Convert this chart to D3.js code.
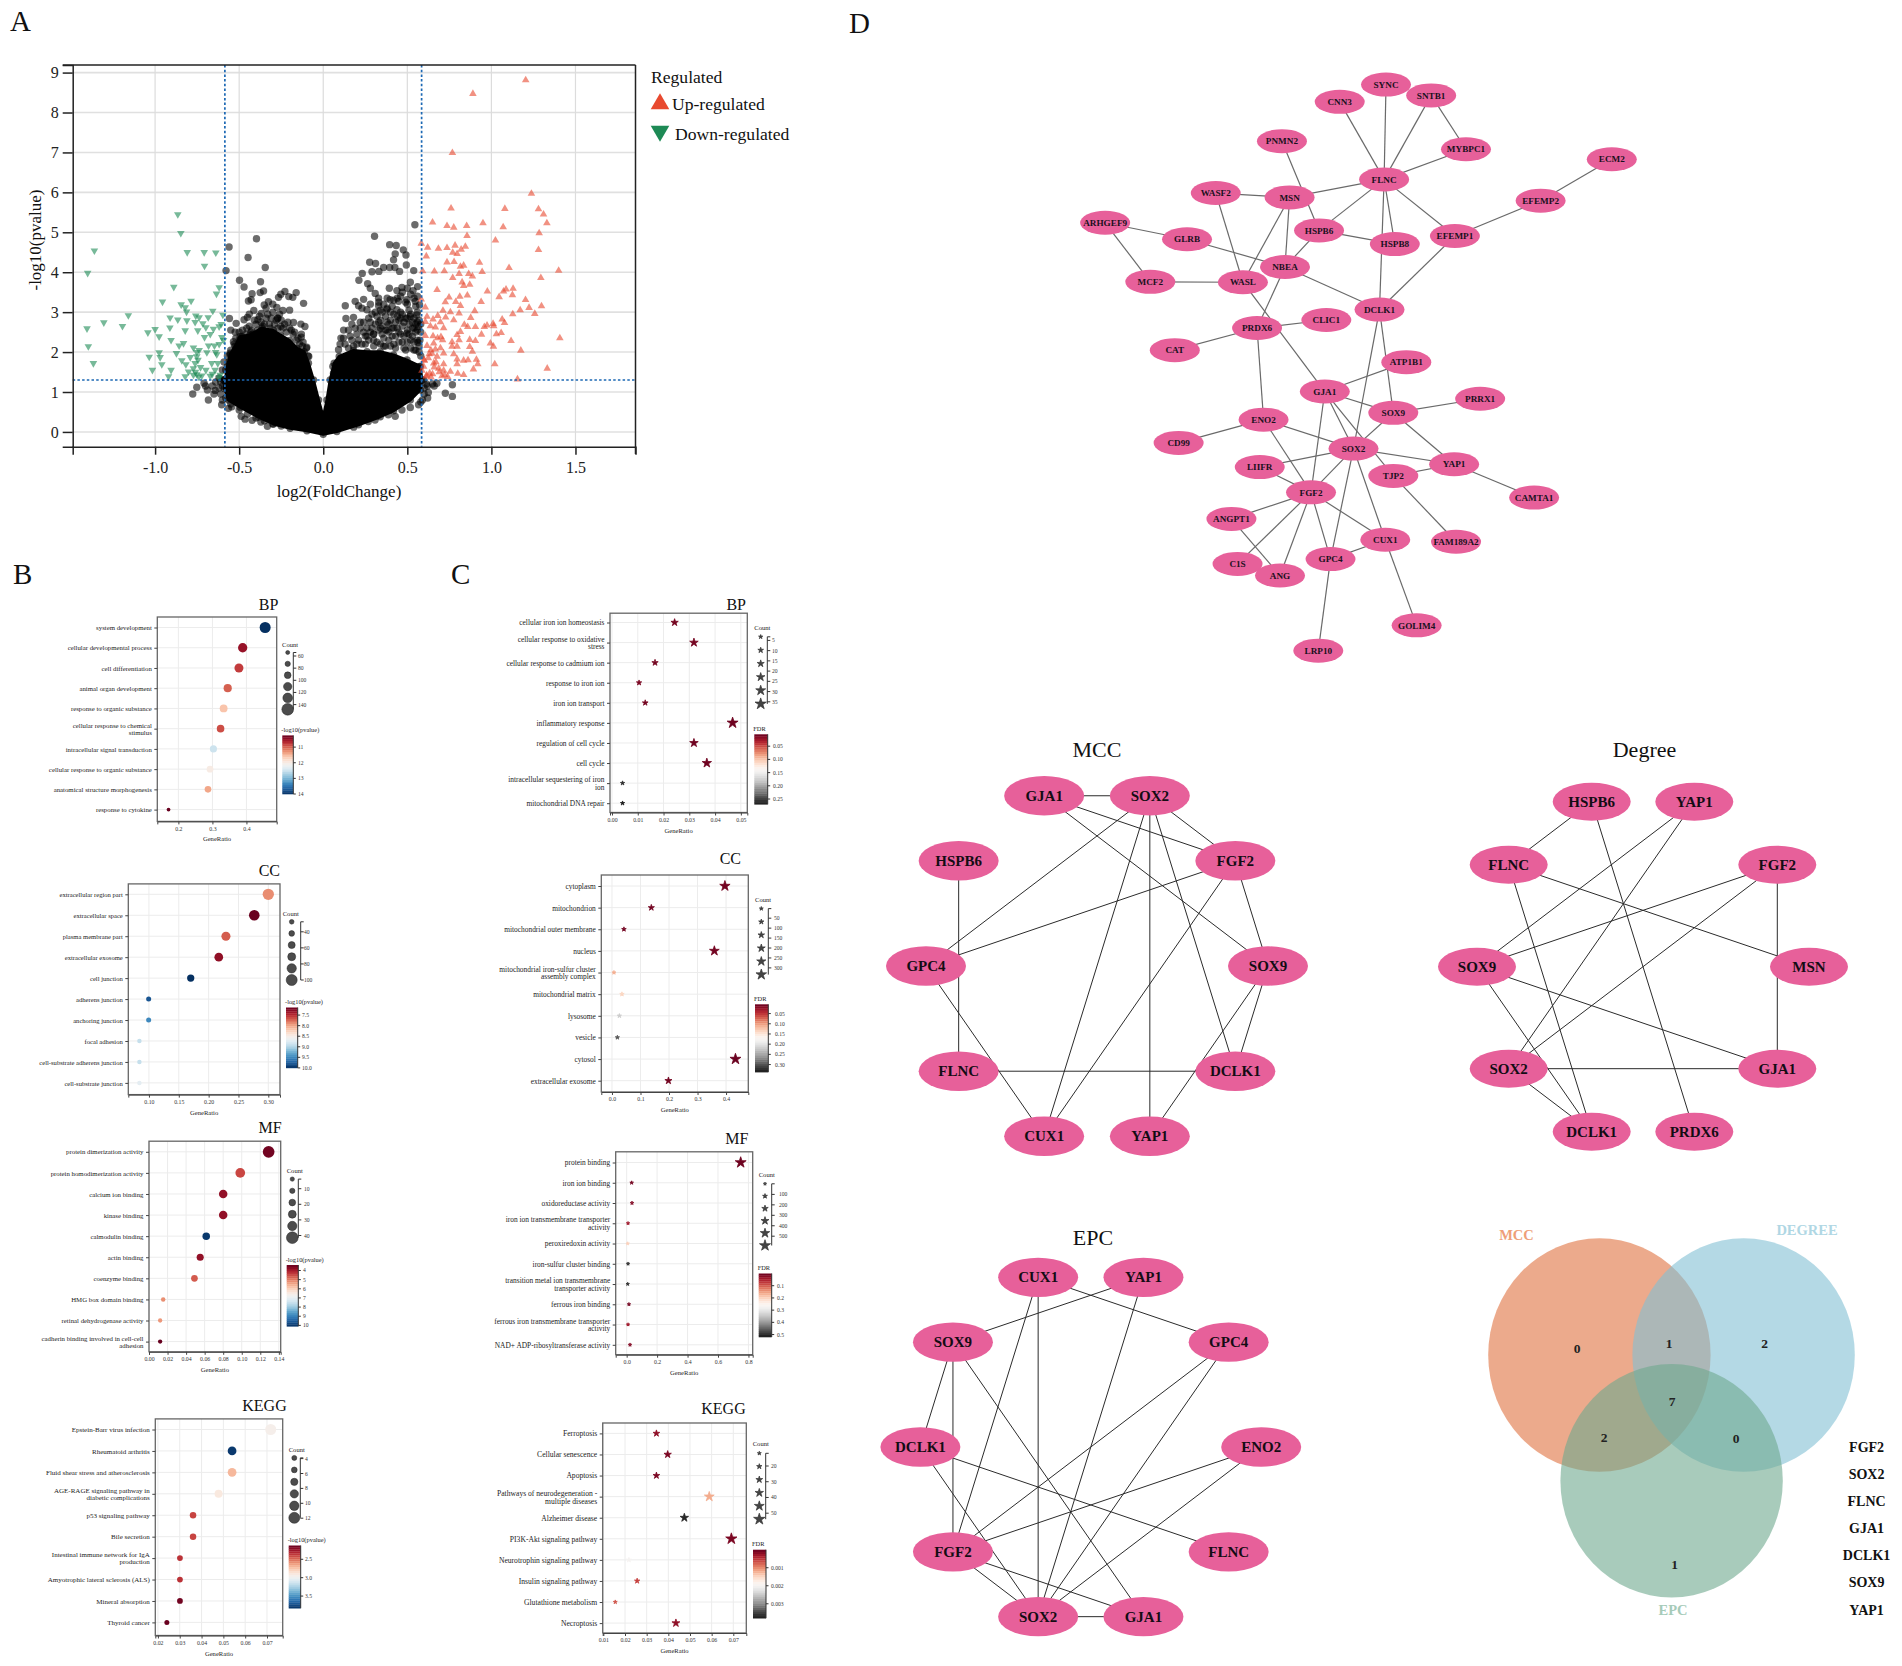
<!DOCTYPE html>
<html>
<head>
<meta charset="utf-8">
<script src="https://cdn.jsdelivr.net/npm/d3@7"></script>
<style>
  body { margin: 0; background: #fff; }
  svg text { font-family: "Liberation Serif", serif; }
</style>
</head>
<body>
<div id="root"></div>
<script>
// ---- volcano values (log2FC / -log10 p)
const upX = [1.204,.89,.768,1.238,.76,1.08,1.28,1.31,.65,.736,.776,.853,.95,1.07,1.33,1.284,.855,1.024,.583,.621,.685,.736,.784,.845,.82,.77,.796,1.28,.613,.736,.778,.929,.816,.835,1.105,.591,.661,.72,.808,.865,.945,1.40,.77,.887,1.294,.826,.871,.835,.677,.976,1.072,1.087,1.129,1.125,1.046,.857,.812,.748,.788,.726,1.203,.939,.583,.607,.816,.901,1.224,1.298,1.171,1.127,1.258,.712,.756,.808,.617,.681,.728,.877,.653,.776,1.064,1.078,1.01,.974,.839,.697,.607,.859,.905,.958,1.014,.637,.667,.716,.816,1.03,1.058,.941,.796,1.407,.607,.653,.7,.808,.871,.905,1.117,.766,.994,.657,.617,1.012,.871,.697,.766,.667,.887,1.175,.647,.716,.776,.677,.601,.796,.835,.861,.911,.657,.796,.716,.919,1.02,1.332,.893,.716,.756,.597,.633,.687,.835,.722,.613,1.155,.641,.706,.587,.796,.625,.64,.67,.69,.71,.66,.68,.63,.6,.615,.65,.74,.8];
const upY = [8.81,8.47,6.99,5.97,5.60,5.59,5.58,5.45,5.25,5.16,5.12,5.16,5.23,5.13,5.23,4.98,4.91,4.80,4.72,4.62,4.59,4.61,4.67,4.64,4.57,4.49,4.46,4.56,4.40,4.25,4.26,4.24,4.14,4.17,4.11,4.03,4.02,4.03,3.96,3.96,4.01,4.04,3.86,3.90,3.86,3.75,3.69,3.66,3.56,3.52,3.52,3.57,3.59,3.43,3.38,3.42,3.39,3.37,3.26,3.25,3.31,3.26,3.32,3.12,3.16,3.03,3.11,3.15,3.05,2.95,2.96,3.04,3.0,2.97,2.89,2.91,2.87,2.86,2.82,2.80,2.82,2.73,2.71,2.67,2.69,2.75,2.76,2.63,2.63,2.63,2.65,2.65,2.62,2.6,2.51,2.45,2.48,2.44,2.43,2.35,2.41,2.40,2.38,2.30,2.31,2.28,2.28,2.25,2.22,2.22,2.16,2.14,2.13,2.10,2.14,2.07,2.01,2.04,1.96,1.97,1.95,1.89,1.79,1.82,1.79,1.80,1.81,1.72,1.70,1.70,1.70,1.70,1.59,1.57,1.54,1.51,1.64,1.47,1.59,1.43,1.43,1.39,1.32,1.37,1.40,1.54,2.14,1.85,2.05,1.75,1.5,2.3,1.62,2.35,1.95,1.8,1.42,1.45,1.38,1.46];
const downX = [-.865,-.847,-1.361,-.809,-.708,-.639,-.706,-1.401,-.889,-.619,-.635,-.956,-.786,-.845,-.821,-.813,-.657,-1.159,-.911,-.865,-.811,-.758,-.738,-.684,-.597,-.762,-.716,-.607,-1.305,-1.194,-1.405,-.912,-1.0,-1.043,-.821,-.746,-.698,-.653,-.619,-.976,-.672,-.706,-.603,-.905,-.831,-.857,-1.397,-.682,-.647,-.619,-.772,-.738,-.873,-.976,-.692,-.633,-1.035,-.97,-.791,-.752,-.841,-.96,-1.367,-.817,-.762,-.663,-.627,-1.016,-.905,-.772,-.698,-.643,-.801,-.92,-.821,-.752,-.722,-.672,-.613,-.772,-.593,-.752,-.745,-.73,-.76,-.66,-.64,-.74,-.62];
const downY = [5.45,4.98,4.54,4.50,4.50,4.49,4.16,3.98,3.63,3.62,3.46,3.26,3.28,3.19,3.12,3.01,3.03,2.92,2.86,2.81,2.79,2.91,2.87,2.87,2.93,2.75,2.72,2.70,2.74,2.65,2.59,2.61,2.57,2.49,2.54,2.54,2.62,2.58,2.64,2.39,2.45,2.37,2.37,2.30,2.22,2.16,2.14,2.16,2.16,2.20,2.11,2.05,1.97,1.99,1.99,1.94,1.88,1.87,1.87,1.89,1.79,1.69,1.72,1.69,1.72,1.72,1.72,1.55,1.55,1.59,1.55,1.55,1.51,1.39,1.39,1.44,1.41,1.40,1.43,1.43,2.30,2.0,1.8,1.62,1.5,1.45,2.0,1.38,1.36];
const nsX = [-.397,-.56,-.447,-.345,-.578,-.498,-.373,-.471,-.423,-.375,-.355,-.445,-.429,-.326,-.351,-.266,-.252,-.228,-.205,-.181,-.161,-.117,-.413,-.369,-.276,-.24,-.558,-.451,-.471,-.389,-.272,-.177,-.133,-.109,-.55,-.518,-.524,-.455,-.425,-.316,-.252,-.131,-.125,-.098,-.534,-.484,-.375,-.554,-.086,-.776,-.752,-.709,-.683,-.689,-.643,-.604,-.564,-.594,-.544,-.488,-.465,-.423,-.371,-.332,-.58,
  .305,.395,.434,.428,.476,.492,.418,.494,.545,.276,.311,.29,.331,.359,.395,.426,.454,.538,.232,.212,.264,.28,.393,.438,.468,.518,.534,.561,.24,.309,.329,.19,.21,.131,.398,.448,.498,.547,.573,.135,.18,.26,.329,.379,.438,.518,.557,.567,.105,.121,.498,.563,.091,.057,.061,.573,.676,.768,.726,.768,.613,.625,.597,.621,.567,.518,.468,.428,.387,.308,.181,.268,
  .13,.16,.19,.2,.22,.24,.25,.27,.29,.3,.31,.33,.35,.36,.37,.39,.4,.41,.42,.43,.45,.46,.47,.48,.49,.5,.51,.52,.53,.54,.55,.56,.57,.36,.44,.47,.54,.5,.56,.23,.28,.17,.15,.12,.1,.34,.41,.44,.58,.575,.58,.34,.38,.42,.46,.5,.54,.56,.26,.3,
  -.5,-.47,-.52,-.44,-.42,-.4,-.38,-.36,-.34,-.32,-.3,-.28,-.26,-.27,-.24,-.22,-.2,-.18,-.16,-.14,-.12,-.46,-.51,-.53,-.56,-.58,-.59,-.6,-.61,-.6,-.55,-.5,-.45,-.4,-.35,-.3,-.25,-.66,-.64,-.62,-.65,-.7,-.61,-.58,.6,.62,.65,.66,.6,.59,.58];
const nsY = [4.84,4.63,4.37,4.12,4.04,3.80,3.76,3.63,3.46,3.49,3.53,3.28,3.31,3.26,3.18,3.37,3.45,3.52,3.39,3.37,3.49,3.22,3.04,2.97,3.12,3.04,2.84,2.87,2.81,2.81,2.85,2.74,2.70,2.64,2.55,2.72,2.50,2.60,2.55,2.60,2.64,2.37,2.15,2.12,2.26,2.39,2.51,1.97,1.89,.95,1.12,1.22,.80,1.05,1.04,.68,.59,1.30,.63,.39,.32,.29,.25,.14,.85,
  4.90,4.69,4.67,4.46,4.56,4.43,4.31,4.18,5.19,4.25,4.22,4.01,4.02,4.12,4.12,4.12,4.02,4.04,3.97,3.80,3.71,3.60,3.60,3.54,3.62,3.75,3.54,3.64,3.32,3.47,3.35,3.27,3.16,3.16,3.31,3.27,3.31,3.27,3.18,2.84,2.87,3.06,3.16,3.07,3.06,2.89,2.93,2.64,2.35,2.55,2.47,2.24,2.06,1.64,1.47,1.64,1.22,1.18,.97,.89,1.20,.99,1.30,.85,.68,.61,.55,.39,.43,.30,.12,.26,
  2.2,2.4,2.6,2.2,2.75,2.5,2.2,2.85,2.6,2.3,3.0,2.75,2.45,2.15,2.9,2.7,3.0,2.4,2.2,2.75,2.5,3.0,2.25,2.75,2.05,2.55,3.05,2.3,2.75,2.05,2.5,3.0,2.0,3.2,3.35,3.5,3.35,3.6,3.4,3.1,3.2,2.7,2.55,2.35,2.2,3.05,3.15,2.9,1.9,2.3,2.7,2.6,2.55,2.6,2.85,2.85,2.6,2.75,2.4,2.45,
  2.5,2.3,2.35,2.65,2.45,2.7,2.9,2.65,2.85,2.7,3.0,2.8,2.95,2.6,2.6,2.5,2.6,2.45,2.3,2.2,2.25,2.1,2.05,1.85,1.75,1.55,1.3,1.15,.95,.8,.7,.55,.45,.35,.28,.2,.15,1.15,1.25,1.1,.95,1.15,1.25,1.25,.95,1.15,1.2,1.15,1.1,.8,.75];
// more of the crowded points in the two wings of the cloud, [log2FC, -log10 p]
const wingPoints = [[.15,2.1],[.17,2.3],[.18,2.15],[.2,2.45],[.21,2.3],[.22,2.6],[.23,2.2],[.24,2.75],[.25,2.4],[.26,2.6],[.27,2.3],[.28,2.5],[.28,2.75],[.29,2.95],[.3,2.15],[.3,2.45],[.31,2.7],[.32,2.25],[.32,2.9],[.33,2.55],[.34,2.2],[.34,2.8],[.35,2.65],[.35,3.0],[.36,2.35],[.37,2.55],[.37,2.15],[.38,2.75],[.38,3.1],[.39,2.3],[.39,2.5],[.4,2.15],[.4,2.8],[.41,2.6],[.42,2.95],[.43,2.4],[.43,2.1],[.44,2.6],[.45,2.25],[.45,2.8],[.46,2.45],[.47,2.65],[.47,2.95],[.48,2.1],[.48,2.4],[.49,2.85],[.5,2.25],[.5,3.2],[.51,2.45],[.51,2.7],[.52,2.1],[.52,2.95],[.53,2.4],[.53,2.6],[.54,2.25],[.54,2.85],[.55,2.05],[.55,2.7],[.56,2.3],[.56,2.55],[.57,2.8],[.57,2.15],[.58,2.5],[.33,3.25],[.38,3.35],[.42,3.3],[.46,3.4],[.49,3.25],[.52,3.45],[.55,3.15],
  [-.53,2.2],[-.5,2.3],[-.48,2.55],[-.46,2.45],[-.43,2.5],[-.41,2.8],[-.39,2.55],[-.37,2.75],[-.35,2.7],[-.33,2.95],[-.31,2.85],[-.29,2.7],[-.27,2.85],[-.25,2.8],[-.23,2.7],[-.21,2.75],[-.19,2.55],[-.17,2.5],[-.15,2.35],[-.13,2.45],[-.55,2.05],[-.57,1.9],[-.59,1.75],[-.6,1.55],[-.62,1.35],[-.1,2.1],[-.09,1.9],[-.44,2.95],[-.34,3.1],[-.2,3.05],[-.3,3.2]];
// outline of the solid black core of the cloud
const coreX = [0,-.097,-.197,-.296,-.385,-.494,-.564,-.588,-.582,-.57,-.554,-.524,-.494,-.435,-.365,-.296,-.256,-.2,-.157,-.113,-.088,-.058,-.028,0,.022,.041,.065,.095,.18,.26,.339,.418,.498,.577,.587,.577,.518,.418,.339,.21,.081];
const coreY = [-.06,.03,.09,.2,.37,.62,.8,1.09,1.32,1.64,1.93,2.15,2.39,2.43,2.6,2.54,2.43,2.29,2.1,2.01,1.72,1.3,.8,.37,.8,1.3,1.72,1.89,2.04,2.01,2.01,1.93,1.8,1.64,1.3,1.05,.8,.53,.38,.18,.01];
const volcanoXTicks = [-1,-.5,0,.5,1,1.5];
const volcanoYTicks = [0,1,2,3,4,5,6,7,8,9];
const fcCut = .585, pCut = 1.3;

// ---- panel B, circles
const bBpCats = ["system development","cellular developmental process","cell differentiation","animal organ development","response to organic substance","cellular response to chemical|stimulus","intracellular signal transduction","cellular response to organic substance","anatomical structure morphogenesis","response to cytokine"];
const bBpRatio = [.455,.389,.378,.345,.333,.324,.303,.293,.287,.171];
const bBpCount = [144,123,119,109,105,102,96,92,90,54];
const bBpHeat = [14,10.5,10.8,11,11.6,10.9,12.5,12,11.4,10.25];
const bCcCats = ["extracellular region part","extracellular space","plasma membrane part","extracellular exosome","cell junction","adherens junction","anchoring junction","focal adhesion","cell-substrate adherens junction","cell-substrate junction"];
const bCcRatio = [.30,.2765,.229,.217,.17,.0995,.0995,.084,.084,.084];
const bCcCount = [105,97,80,76,60,35,35,29,29,29];
const bCcHeat = [7.9,7.15,7.7,7.3,10,9.8,9.5,8.9,8.9,8.7];
const bMfCats = ["protein dimerization activity","protein homodimerization activity","calcium ion binding","kinase binding","calmodulin binding","actin binding","coenzyme binding","HMG box domain binding","retinal dehydrogenase activity","cadherin binding involved in cell-cell|adhesion"];
const bMfRatio = [.129,.0984,.08,.08,.0617,.0552,.049,.0153,.012,.012];
const bMfCount = [41,31,25,25,20,18,16,5,4,4];
const bMfHeat = [3.5,4.5,3.8,3.8,10,3.8,4.7,5.2,5.3,3.4];
const bKeggCats = ["Epstein-Barr virus infection","Rheumatoid arthritis","Fluid shear stress and atherosclerosis","AGE-RAGE signaling pathway in|diabetic complications","p53 signaling pathway","Bile secretion","Intestinal immune network for IgA|production","Amyotrophic lateral sclerosis (ALS)","Mineral absorption","Thyroid cancer"];
const bKeggRatio = [.0717,.054,.054,.0478,.0361,.0361,.0301,.0301,.0301,.0241];
const bKeggCount = [12,9,9,8,6,6,5,5,5,4];
const bKeggHeat = [2.95,3.8,2.7,2.9,2.4,2.4,2.35,2.35,2.15,2.13];

// ---- panel C, stars
const cBpCats = ["cellular iron ion homeostasis","cellular response to oxidative|stress","cellular response to cadmium ion","response to iron ion","iron ion transport","inflammatory response","regulation of cell cycle","cell cycle","intracellular sequestering of iron|ion","mitochondrial DNA repair"];
const cBpRatio = [.0243,.0318,.0167,.0105,.0129,.0468,.0318,.0368,.0041,.0041];
const cBpCount = [18,24,13,8,10,36,24,28,3,3];
const cBpFdr = [.01,.01,.01,.012,.01,.008,.008,.008,.26,.27];
const cCcCats = ["cytoplasm","mitochondrion","mitochondrial outer membrane","nucleus","mitochondrial iron-sulfur cluster|assembly complex","mitochondrial matrix","lysosome","vesicle","cytosol","extracellular exosome"];
const cCcRatio = [.396,.138,.042,.359,.007,.035,.026,.019,.433,.198];
const cCcCount = [297,104,32,269,5,26,20,14,325,148];
const cCcFdr = [.01,.01,.01,.01,.11,.135,.22,.3,.006,.01];
const cMfCats = ["protein binding","iron ion binding","oxidoreductase activity","iron ion transmembrane transporter|activity","peroxiredoxin activity","iron-sulfur cluster binding","transition metal ion transmembrane|transporter activity","ferrous iron binding","ferrous iron transmembrane transporter|activity","NAD+ ADP-ribosyltransferase activity"];
const cMfRatio = [.749,.033,.035,.009,.007,.009,.007,.015,.009,.022];
const cMfCount = [524,23,25,6,5,6,5,10,6,15];
const cMfFdr = [.005,.01,.02,.04,.2,.5,.5,.01,.04,.02];
const cKeggCats = ["Ferroptosis","Cellular senescence","Apoptosis","Pathways of neurodegeneration -|multiple diseases","Alzheimer disease","PI3K-Akt signaling pathway","Neurotrophin signaling pathway","Insulin signaling pathway","Glutathione metabolism","Necroptosis"];
const cKeggRatio = [.0345,.0397,.0345,.0589,.0474,.0691,.0218,.0256,.0155,.0435];
const cKeggCount = [27,31,27,45,37,53,17,20,12,34];
const cKeggFdr = [.0002,.0001,.0001,.0012,.0037,.0001,.002,.0006,.0007,.0002];

// ---- network D
const netNames = ["SYNC","SNTB1","CNN3","PNMN2","MYBPC1","ECM2","FLNC","EFEMP2","MSN","WASF2","ARHGEF9","HSPB6","GLRB","HSPB8","EFEMP1","NBEA","MCF2","WASL","DCLK1","CLIC1","PRDX6","CAT","ATP1B1","GJA1","PRRX1","SOX9","ENO2","CD99","SOX2","YAP1","LIIFR","TJP2","FGF2","CAMTA1","ANGPT1","CUX1","FAM189A2","GPC4","C1S","ANG","GOLIM4","LRP10"];
const netX = [852,970,731,580,1061,1442,847,1256,600,407,118,677,332,875,1032,588,236,478,835,696,515,300,905,692,1098,871,532,310,767,1030,522,871,656,1239,448,850,1035,707,464,575,932,675];
const netY = [86,113,129,227,247,272,322,375,367,356,430,449,471,483,463,540,577,578,646,672,692,747,777,850,868,903,920,978,992,1031,1038,1060,1101,1114,1167,1219,1224,1267,1279,1308,1432,1495];
const netEdges = ["SYNC-FLNC","SNTB1-FLNC","SNTB1-MYBPC1","CNN3-FLNC","MYBPC1-FLNC","PNMN2-HSPB6","FLNC-MSN","FLNC-HSPB6","FLNC-HSPB8","FLNC-EFEMP1","FLNC-DCLK1","ECM2-EFEMP2","EFEMP2-EFEMP1","WASF2-MSN","WASF2-WASL","MSN-NBEA","MSN-WASL","HSPB6-HSPB8","HSPB6-NBEA","ARHGEF9-GLRB","ARHGEF9-MCF2","GLRB-NBEA","MCF2-WASL","NBEA-DCLK1","NBEA-PRDX6","WASL-GJA1","EFEMP1-DCLK1","PRDX6-CLIC1","PRDX6-CAT","PRDX6-ENO2","DCLK1-SOX9","DCLK1-SOX2","ATP1B1-GJA1","GJA1-SOX9","GJA1-FGF2","GJA1-SOX2","GJA1-TJP2","SOX9-PRRX1","SOX9-SOX2","SOX9-YAP1","ENO2-CD99","ENO2-SOX2","ENO2-FGF2","SOX2-YAP1","SOX2-LIIFR","SOX2-FGF2","SOX2-GPC4","SOX2-CUX1","LIIFR-FGF2","YAP1-TJP2","YAP1-CAMTA1","TJP2-FAM189A2","FGF2-ANGPT1","FGF2-C1S","FGF2-ANG","FGF2-GPC4","FGF2-CUX1","ANGPT1-ANG","CUX1-GPC4","CUX1-GOLIM4","GPC4-LRP10"];
const mccNodes = ["SOX2","FGF2","SOX9","DCLK1","YAP1","CUX1","FLNC","GPC4","HSPB6","GJA1"];
const mccEdges = ["GJA1-SOX2","GJA1-FGF2","GJA1-SOX9","SOX2-FGF2","SOX2-GPC4","SOX2-CUX1","SOX2-YAP1","SOX2-DCLK1","FGF2-GPC4","FGF2-SOX9","FGF2-CUX1","SOX9-DCLK1","SOX9-YAP1","HSPB6-FLNC","GPC4-CUX1","FLNC-DCLK1"];
const degreeNodes = ["YAP1","FGF2","MSN","GJA1","PRDX6","DCLK1","SOX2","SOX9","FLNC","HSPB6"];
const degreeEdges = ["HSPB6-FLNC","HSPB6-PRDX6","YAP1-SOX9","YAP1-SOX2","FLNC-MSN","FLNC-DCLK1","FGF2-SOX9","FGF2-SOX2","FGF2-GJA1","SOX9-GJA1","SOX9-DCLK1","SOX2-GJA1","SOX2-DCLK1"];
const epcNodes = ["YAP1","GPC4","ENO2","FLNC","GJA1","SOX2","FGF2","DCLK1","SOX9","CUX1"];
const epcEdges = ["CUX1-GPC4","CUX1-FGF2","CUX1-SOX2","YAP1-SOX9","YAP1-SOX2","SOX9-DCLK1","SOX9-FGF2","SOX9-GJA1","GPC4-FGF2","GPC4-SOX2","ENO2-FGF2","ENO2-SOX2","DCLK1-FLNC","DCLK1-SOX2","FGF2-SOX2","FGF2-GJA1","SOX2-GJA1"];
const hubGenes = ["FGF2","SOX2","FLNC","GJA1","DCLK1","SOX9","YAP1"];

const svg = d3.select("#root").append("svg").attr("width", 1902).attr("height", 1666);

// panel letters
[["A",10,31],["B",13,584],["C",451,584],["D",849,33]].forEach(l => {
  svg.append("text").attr("x", l[1]).attr("y", l[2]).attr("font-size", 29).attr("fill", "#111").text(l[0]);
});

// ---------------- A volcano
const drawVolcano = () => {
  const x = d3.scaleLinear().domain([-1.49, 1.857]).range([72.7, 635.5]);
  const y = d3.scaleLinear().domain([-.37, 9.19]).range([446.7, 65]);
  const g = svg.append("g");
  volcanoYTicks.forEach(t => g.append("line").attr("x1", 72.7).attr("x2", 635.5).attr("y1", y(t)).attr("y2", y(t)).attr("stroke", "#e0e0e0").attr("stroke-width", 1.6));
  volcanoXTicks.forEach(t => g.append("line").attr("x1", x(t)).attr("x2", x(t)).attr("y1", 65).attr("y2", 446.7).attr("stroke", "#dcdcdc").attr("stroke-width", 1.2));

  g.append("path").attr("fill", "#000").attr("stroke", "#000").attr("stroke-width", 3).attr("stroke-linejoin", "round")
    .attr("d", d3.line().x((d, i) => x(coreX[i])).y((d, i) => y(coreY[i])).curve(d3.curveLinearClosed)(coreX));
  g.selectAll(".ns").data(nsX).enter().append("circle").attr("class", "ns")
    .attr("cx", d => x(d)).attr("cy", (d, i) => y(nsY[i])).attr("r", 3.7).attr("fill", "#000").attr("opacity", .58);
  g.selectAll(".wing").data(wingPoints).enter().append("circle").attr("class", "wing")
    .attr("cx", d => x(d[0])).attr("cy", d => y(d[1])).attr("r", 3.7).attr("fill", "#000").attr("opacity", .58);
  g.selectAll(".core").data(coreX).enter().append("circle").attr("class", "core")
    .attr("cx", d => x(d)).attr("cy", (d, i) => y(coreY[i])).attr("r", 3.7).attr("fill", "#000").attr("opacity", .6);

  const tri = d3.symbol(d3.symbolTriangle).size(25);
  g.selectAll(".up").data(upX).enter().append("path").attr("class", "up").attr("d", tri)
    .attr("transform", (d, i) => "translate(" + x(d) + "," + y(upY[i]) + ")").attr("fill", "#e8472f").attr("opacity", .6);
  g.selectAll(".down").data(downX).enter().append("path").attr("class", "down").attr("d", tri)
    .attr("transform", (d, i) => "translate(" + x(d) + "," + y(downY[i]) + ") rotate(180)").attr("fill", "#1d8a55").attr("opacity", .6);

  // cut-off lines
  [fcCut, -fcCut].forEach(c => g.append("line").attr("x1", x(c)).attr("x2", x(c)).attr("y1", 65).attr("y2", 446.7)
    .attr("stroke", "#1c68b4").attr("stroke-width", 1.7).attr("stroke-dasharray", "2.5,2.2"));
  g.append("line").attr("x1", 72.7).attr("x2", 635.5).attr("y1", y(pCut)).attr("y2", y(pCut))
    .attr("stroke", "#1c68b4").attr("stroke-width", 1.7).attr("stroke-dasharray", "2.5,2.2");

  const xa = g.append("g").attr("transform", "translate(0,446.7)")
    .call(d3.axisBottom(x).tickValues(volcanoXTicks).tickFormat(d => d.toFixed(1)).tickSize(8).tickPadding(7));
  const ya = g.append("g").attr("transform", "translate(72.7,0)")
    .call(d3.axisLeft(y).tickValues(volcanoYTicks).tickFormat(d => d).tickSize(10).tickPadding(4));
  [xa, ya].forEach(a => {
    a.selectAll("text").attr("font-size", 16).attr("fill", "#222");
    a.selectAll("path,line").attr("stroke", "#222").attr("stroke-width", 1.5);
  });
  g.append("line").attr("x1", 62.7).attr("x2", 635.5).attr("y1", 65).attr("y2", 65).attr("stroke", "#222").attr("stroke-width", 1.5);
  g.append("line").attr("x1", 635.5).attr("x2", 635.5).attr("y1", 65).attr("y2", 454).attr("stroke", "#222").attr("stroke-width", 1.5);

  g.append("text").attr("x", 339).attr("y", 497).attr("text-anchor", "middle").attr("font-size", 17).attr("fill", "#111").text("log2(FoldChange)");
  g.append("text").attr("transform", "translate(41,240) rotate(-90)").attr("text-anchor", "middle").attr("font-size", 17).attr("fill", "#111").text("-log10(pvalue)");

  g.append("text").attr("x", 651).attr("y", 83).attr("font-size", 17.6).attr("fill", "#111").text("Regulated");
  const big = d3.symbol(d3.symbolTriangle).size(150);
  g.append("path").attr("d", big).attr("transform", "translate(660,104)").attr("fill", "#e8492f");
  g.append("path").attr("d", big).attr("transform", "translate(660,131) rotate(180)").attr("fill", "#1d8a55");
  g.append("text").attr("x", 672).attr("y", 110).attr("font-size", 17.6).attr("fill", "#111").text("Up-regulated");
  g.append("text").attr("x", 675).attr("y", 140).attr("font-size", 17.6).attr("fill", "#111").text("Down-regulated");
};
drawVolcano();

// ---------------- B / C dot plots
const dotPanels = [
  { title: "BP", cats: bBpCats, ratio: bBpRatio, count: bBpCount, heat: bBpHeat, star: false, label: 6.8, box: [157.3,276.7,617,821.4], rows: [627.5,809.6], xd: [.138,.489], xt: [.2,.3,.4], xf: ".1f",
    size: [[54,144],[3.7,11]], legendCounts: [58,74,91,111,128,153], titleEnd: 278.3, titleY: 609.6,
    cnt: { x: 282, y: 645.4, cx: 287.7, ax: 293.3, y0: 652.5, y1: 709.3, lx: 298, ticks: [60,80,100,120,140], td: [60,140], tr: [656,704.6] },
    bar: { name: "-log10(pvalue)", x0: 282.3, x1: 293.3, y0: 735.4, y1: 794, d: [10.25,14], ticks: [11,12,13,14], f: "d", lx: 298 } },
  { title: "CC", cats: bCcCats, ratio: bCcRatio, count: bCcCount, heat: bCcHeat, star: false, label: 6.6, box: [128.3,280,883.9,1094.6], rows: [894.3,1082.9], xd: [.0654,.3196], xt: [.1,.15,.2,.25,.3], xf: ".2f",
    size: [[29,105],[4.5,11.3]], legendCounts: [31,42,57,68,83,102], titleEnd: 280, titleY: 875.7,
    cnt: { x: 282.7, y: 914.3, cx: 291.7, ax: 300.7, y0: 921.8, y1: 980, lx: 304, ticks: [40,60,80,100], td: [40,100], tr: [931.8,980] },
    bar: { name: "-log10(pvalue)", x0: 286, x1: 297.7, y0: 1007.5, y1: 1067.9, d: [7.14,10], ticks: [7.5,8,8.5,9,9.5,10], f: ".1f", lx: 302 } },
  { title: "MF", cats: bMfCats, ratio: bMfRatio, count: bMfCount, heat: bMfHeat, star: false, label: 6.8, box: [149,280.7,1141.2,1351.8], rows: [1151.8,1341.6], xd: [0,.142], xt: [0,.02,.04,.06,.08,.1,.12,.14], xf: ".2f",
    size: [[4,41],[4.3,11.7]], legendCounts: [4,9,16,22,29,41], titleEnd: 281.7, titleY: 1133,
    cnt: { x: 286.7, y: 1171.3, cx: 292.3, ax: 298.3, y0: 1179.1, y1: 1237.7, lx: 304, ticks: [10,20,30,40], td: [10,40], tr: [1188.7,1235.5] },
    bar: { name: "-log10(pvalue)", x0: 286.7, x1: 298.3, y0: 1265, y1: 1326.3, d: [3.4,10.1], ticks: [4,5,6,7,8,9,10], f: "d", lx: 303 } },
  { title: "KEGG", cats: bKeggCats, ratio: bKeggRatio, count: bKeggCount, heat: bKeggHeat, star: false, label: 7, box: [155.3,282.7,1418.9,1635.5], rows: [1429.5,1622.4], xd: [.0188,.0772], xt: [.02,.03,.04,.05,.06,.07], xf: ".2f",
    size: [[4,12],[5,11]], legendCounts: [4,5,7,8.4,10,12], titleEnd: 286.7, titleY: 1410.7,
    cnt: { x: 288.7, y: 1449.7, cx: 294.3, ax: 300.3, y0: 1457.9, y1: 1517.8, lx: 305, ticks: [4,6,8,10,12], td: [4,12], tr: [1458.6,1518.2] },
    bar: { name: "-log10(pvalue)", x0: 288.7, x1: 300.7, y0: 1545.5, y1: 1608.2, d: [2.125,3.83], ticks: [2.5,3,3.5], f: ".1f", lx: 305 } },
  { title: "BP", cats: cBpCats, ratio: cBpRatio, count: cBpCount, heat: cBpFdr, star: true, label: 7.4, box: [610,747.3,613.2,812.5], rows: [622.5,803.2], xd: [-.00077,.0525], xt: [0,.01,.02,.03,.04,.05], xf: ".2f",
    size: [[3,36],[4.3,11]], legendCounts: [3,10,17,24,31,38], titleEnd: 746, titleY: 609.6,
    cnt: { x: 754.3, y: 627.5, cx: 760.7, ax: 767.3, y0: 636.8, y1: 703.9, lx: 772, ticks: [5,10,15,20,25,30,35], td: [5,35], tr: [640.4,701.8] },
    bar: { name: "FDR", x0: 754.3, x1: 767.7, y0: 734.3, y1: 804.3, d: [.005,.27], ticks: [.05,.1,.15,.2,.25], f: ".2f", lx: 773 } },
  { title: "CC", cats: cCcCats, ratio: cCcRatio, count: cCcCount, heat: cCcFdr, star: true, label: 7.4, box: [601.3,748.3,875,1092], rows: [886,1080.7], xd: [-.0374,.478], xt: [0,.1,.2,.3,.4], xf: ".1f",
    size: [[5,325],[4,11]], legendCounts: [5,65,125,185,245,310], titleEnd: 741, titleY: 864.3,
    cnt: { x: 755, y: 899.6, cx: 761.3, ax: 768.3, y0: 908.6, y1: 974.6, lx: 774, ticks: [50,100,150,200,250,300], td: [50,300], tr: [918.2,967.9] },
    bar: { name: "FDR", x0: 755, x1: 768.3, y0: 1004.3, y1: 1072.1, d: [.0045,.337], ticks: [.05,.1,.15,.2,.25,.3], f: ".2f", lx: 775 } },
  { title: "MF", cats: cMfCats, ratio: cMfRatio, count: cMfCount, heat: cMfFdr, star: true, label: 7.4, box: [615.7,752.7,1151.8,1354.7], rows: [1162.5,1344.8], xd: [-.072,.828], xt: [0,.2,.4,.6,.8], xf: ".1f",
    size: [[5,524],[3.4,11]], legendCounts: [5,110,215,320,425,530], titleEnd: 748.3, titleY: 1143.7,
    cnt: { x: 758.7, y: 1175.2, cx: 765, ax: 771.7, y0: 1183.8, y1: 1245.5, lx: 779, ticks: [100,200,300,400,500], td: [100,500], tr: [1194.4,1236.2] },
    bar: { name: "FDR", x0: 758.7, x1: 771.7, y0: 1273.5, y1: 1337, d: [0,.52], ticks: [.1,.2,.3,.4,.5], f: ".1f", lx: 777 } },
  { title: "KEGG", cats: cKeggCats, ratio: cKeggRatio, count: cKeggCount, heat: cKeggFdr, star: true, label: 7.6, box: [602.7,746.3,1423,1633], rows: [1433.4,1623.1], xd: [.0097,.076], xt: [.01,.02,.03,.04,.05,.06,.07], xf: ".2f",
    size: [[12,53],[4,11.3]], legendCounts: [12,20,28,37,45,54], titleEnd: 745.7, titleY: 1414.3,
    cnt: { x: 752.7, y: 1444.4, cx: 759.3, ax: 765.7, y0: 1453.3, y1: 1519.2, lx: 771, ticks: [20,30,40,50], td: [20,50], tr: [1466,1513.2] },
    bar: { name: "FDR", x0: 753, x1: 766, y0: 1549.7, y1: 1618.2, d: [0,.0038], ticks: [.001,.002,.003], f: ".3f", lx: 771 } }
];

// star d: outer diameter in px -> d3 symbol area
const starPath = dia => d3.symbol(d3.symbolStar).size((dia / 2) * (dia / 2) / .89)();

const drawDotPanel = p => {
  const [x0, x1, y0, y1] = p.box;
  const g = svg.append("g");
  const x = d3.scaleLinear().domain(p.xd).range([x0, x1]);
  const y = d3.scalePoint().domain(p.cats).range(p.rows);
  const dia = d3.scaleLinear().domain(p.size[0]).range(p.size[1]);
  const cmap = p.star ? d3.interpolateRdGy : d3.interpolateRdBu;
  const t = d3.scaleLinear().domain(p.bar.d).range([0, 1]).clamp(true);

  // grid
  p.xt.forEach(v => g.append("line").attr("x1", x(v)).attr("x2", x(v)).attr("y1", y0).attr("y2", y1).attr("stroke", "#ececec"));
  p.cats.forEach(c => g.append("line").attr("x1", x0).attr("x2", x1).attr("y1", y(c)).attr("y2", y(c)).attr("stroke", "#ececec"));

  // frame
  g.append("rect").attr("x", x0).attr("y", y0).attr("width", x1 - x0).attr("height", y1 - y0)
    .attr("fill", "none").attr("stroke", "#666").attr("stroke-width", 1.3);

  const xa = g.append("g").attr("transform", "translate(0," + y1 + ")")
    .call(d3.axisBottom(x).tickValues(p.xt).tickFormat(d3.format(p.xf)).tickSize(3).tickPadding(2));
  xa.selectAll("text").attr("font-size", 5.8).attr("fill", "#333");
  xa.selectAll("path,line").attr("stroke", "#444");

  const ya = g.append("g").attr("transform", "translate(" + x0 + ",0)")
    .call(d3.axisLeft(y).tickSize(3).tickPadding(2.5));
  ya.select("path").remove();
  ya.selectAll("line").attr("stroke", "#444");
  ya.selectAll("text").attr("font-size", p.label).attr("fill", "#222").attr("dy", null).each(function (d) {
    const lines = d.split("|");
    const el = d3.select(this).text(null);
    lines.forEach((s, i) => {
      el.append("tspan").attr("x", -5.5).attr("dy", i === 0 ? (.32 - (lines.length - 1) * .52) + "em" : "1.04em").text(s);
    });
  });

  g.append("text").attr("x", (x0 + x1) / 2).attr("y", y1 + 20).attr("text-anchor", "middle").attr("font-size", 6.6).attr("fill", "#222").text("GeneRatio");
  g.append("text").attr("x", p.titleEnd).attr("y", p.titleY).attr("text-anchor", "end").attr("font-size", 16).attr("fill", "#111").text(p.title);

  // marks
  p.ratio.forEach((r, i) => {
    const d = dia(p.count[i]);
    const col = cmap(t(p.heat[i]));
    if (p.star) {
      g.append("path").attr("d", starPath(d * 1.05)).attr("transform", "translate(" + x(r) + "," + y(p.cats[i]) + ")")
        .attr("fill", col).attr("stroke", col).attr("stroke-width", .8).attr("stroke-linejoin", "round");
    } else {
      g.append("circle").attr("cx", x(r)).attr("cy", y(p.cats[i])).attr("r", d / 2).attr("fill", col);
    }
  });

  // count legend
  const c = p.cnt;
  g.append("text").attr("x", c.x).attr("y", c.y + 2).attr("font-size", 6.6).attr("fill", "#222").text("Count");
  const ly = d3.scalePoint().domain(p.legendCounts).range([c.y0, c.y1]);
  p.legendCounts.forEach(v => {
    if (p.star) {
      g.append("path").attr("d", starPath(dia(v) * 1.05)).attr("transform", "translate(" + c.cx + "," + ly(v) + ")").attr("fill", "#444").attr("stroke", "#333").attr("stroke-width", .7);
    } else {
      g.append("circle").attr("cx", c.cx).attr("cy", ly(v)).attr("r", dia(v) / 2).attr("fill", "#4c4c4c").attr("stroke", "#222").attr("stroke-width", .5);
    }
  });
  const ty = d3.scaleLinear().domain(c.td).range(c.tr);
  g.append("line").attr("x1", c.ax).attr("x2", c.ax).attr("y1", c.y0).attr("y2", c.y1).attr("stroke", "#333");
  g.append("line").attr("x1", c.ax).attr("x2", c.ax + 3).attr("y1", c.y0).attr("y2", c.y0).attr("stroke", "#333");
  c.ticks.forEach(v => {
    g.append("line").attr("x1", c.ax).attr("x2", c.ax + 3).attr("y1", ty(v)).attr("y2", ty(v)).attr("stroke", "#333");
    g.append("text").attr("x", c.lx).attr("y", ty(v) + 2).attr("font-size", 5.6).attr("fill", "#333").text(v);
  });

  // colour bar, banded like the reference
  const b = p.bar;
  const by = d3.scaleLinear().domain(b.d).range([b.y0, b.y1]);
  g.append("text").attr("x", b.x0 - 1).attr("y", b.y0 - 3.5).attr("font-size", 6.4).attr("fill", "#222").text(b.name);
  const nb = 32;
  d3.range(nb).forEach(i => {
    g.append("rect").attr("x", b.x0).attr("width", b.x1 - b.x0)
      .attr("y", b.y0 + (b.y1 - b.y0) * i / nb).attr("height", (b.y1 - b.y0) / nb + .3)
      .attr("fill", cmap((i + .5) / nb));
  });
  g.append("line").attr("x1", b.x1).attr("x2", b.x1).attr("y1", b.y0).attr("y2", b.y1).attr("stroke", "#333");
  b.ticks.forEach(v => {
    g.append("line").attr("x1", b.x1).attr("x2", b.x1 + 2.5).attr("y1", by(v)).attr("y2", by(v)).attr("stroke", "#333");
    g.append("text").attr("x", b.lx).attr("y", by(v) + 2).attr("font-size", 5.6).attr("fill", "#333").text(d3.format(b.f)(v));
  });
};
dotPanels.forEach(drawDotPanel);

// ---------------- D networks
const PINK = "#e7609a";
const drawEdges = (g, edges, pos, color, w) => {
  edges.forEach(e => {
    const [a, b] = e.split("-");
    g.append("line").attr("x1", pos[a][0]).attr("y1", pos[a][1]).attr("x2", pos[b][0]).attr("y2", pos[b][1])
      .attr("stroke", color).attr("stroke-width", w);
  });
};

const drawMainNet = () => {
  const x = d3.scaleLinear().domain([0, 1568]).range([1060, 1660]);
  const y = d3.scaleLinear().domain([0, 1568]).range([50, 680]);
  const g = svg.append("g");
  const pos = {};
  netNames.forEach((n, i) => { pos[n] = [x(netX[i]), y(netY[i])]; });
  drawEdges(g, netEdges, pos, "#6a6a6a", 1.2);
  netNames.forEach(n => {
    g.append("ellipse").attr("cx", pos[n][0]).attr("cy", pos[n][1]).attr("rx", 25).attr("ry", 12).attr("fill", PINK);
    g.append("text").attr("x", pos[n][0]).attr("y", pos[n][1] + 3.2).attr("text-anchor", "middle")
      .attr("font-size", 9.2).attr("font-weight", "bold").attr("fill", "#1a1020").text(n);
  });
};
drawMainNet();

const drawRing = (title, nodes, edges, cx, cy, rx, ry, nodeRx, nodeRy, titleX, titleY) => {
  const g = svg.append("g");
  const ang = d3.scaleLinear().domain([0, nodes.length]).range([0, 2 * Math.PI]);
  const pos = {};
  nodes.forEach((n, i) => {
    const a = ang(i + .5);
    pos[n] = [cx + rx * Math.sin(a), cy - ry * Math.cos(a)];
  });
  drawEdges(g, edges, pos, "#2b2b2b", 1);
  nodes.forEach(n => {
    g.append("ellipse").attr("cx", pos[n][0]).attr("cy", pos[n][1]).attr("rx", nodeRx).attr("ry", nodeRy).attr("fill", PINK);
    g.append("text").attr("x", pos[n][0]).attr("y", pos[n][1] + 5).attr("text-anchor", "middle")
      .attr("font-size", 15).attr("font-weight", "bold").attr("fill", "#140c14").text(n);
  });
  g.append("text").attr("x", titleX).attr("y", titleY).attr("text-anchor", "middle").attr("font-size", 22).attr("fill", "#111").text(title);
};
drawRing("MCC", mccNodes, mccEdges, 1097, 966, 171, 179, 40, 19.7, 1097, 757);
drawRing("Degree", degreeNodes, degreeEdges, 1643, 966.7, 166, 173.5, 39, 19, 1644.5, 757);
drawRing("EPC", epcNodes, epcEdges, 1090.8, 1447, 170.4, 178.4, 40, 19.7, 1093, 1245);

// ---------------- Venn
const drawVenn = () => {
  const g = svg.append("g");
  [[1599.4,1355,"#df713f"],[1743.6,1355,"#82c0d4"],[1671.6,1480.7,"#6ea88e"]].forEach(v => {
    g.append("ellipse").attr("cx", v[0]).attr("cy", v[1]).attr("rx", 111.2).attr("ry", 116.7).attr("fill", v[2]).attr("opacity", .6);
  });
  [["0",1577,1348],["1",1669,1343],["2",1764.5,1343],["7",1672,1400.7],["2",1604,1437],["0",1736,1438],["1",1674.5,1564]].forEach(n => {
    g.append("text").attr("x", n[1]).attr("y", n[2] + 5).attr("text-anchor", "middle").attr("font-size", 13.5).attr("font-weight", "bold").attr("fill", "#222").text(n[0]);
  });
  [["MCC",1516.5,1240,"#ee9f79"],["DEGREE",1807,1235,"#b0d7e4"],["EPC",1673,1615,"#a6cbb9"]].forEach(s => {
    g.append("text").attr("x", s[1]).attr("y", s[2]).attr("text-anchor", "middle").attr("font-size", 14.5).attr("font-weight", "bold").attr("fill", s[3]).text(s[0]);
  });
  const gy = d3.scalePoint().domain(hubGenes).range([1447, 1609.5]);
  hubGenes.forEach(n => {
    g.append("text").attr("x", 1866.6).attr("y", gy(n) + 5).attr("text-anchor", "middle").attr("font-size", 14).attr("font-weight", "bold").attr("fill", "#111").text(n);
  });
};
drawVenn();
</script>
</body>
</html>
